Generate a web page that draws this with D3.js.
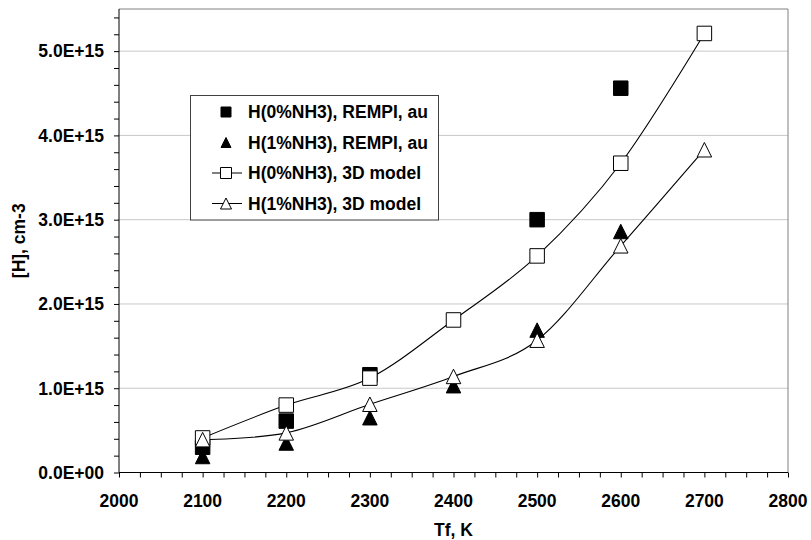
<!DOCTYPE html>
<html>
<head>
<meta charset="utf-8">
<script src="https://cdn.jsdelivr.net/npm/d3@7"></script>
<style>
  html, body { margin: 0; padding: 0; background: #fff; }
  svg text { font-family: "Liberation Sans", Arial, sans-serif; font-weight: bold; fill: #000; }
</style>
</head>
<body>
<svg id="chart" width="811" height="540"></svg>
<script>
// ---- data ----
const rempi0T = [2100, 2200, 2300, 2500, 2600];
const rempi0V = [0.30e15, 0.61e15, 1.16e15, 3.00e15, 4.56e15];
const rempi1T = [2100, 2200, 2300, 2400, 2500, 2600];
const rempi1V = [0.19e15, 0.35e15, 0.65e15, 1.03e15, 1.69e15, 2.86e15];
const modelT = [2100, 2200, 2300, 2400, 2500, 2600, 2700];
const model0V = [0.41e15, 0.80e15, 1.12e15, 1.81e15, 2.57e15, 3.67e15, 5.21e15];
const model1V = [0.39e15, 0.47e15, 0.81e15, 1.14e15, 1.57e15, 2.69e15, 3.83e15];
const xTicks = [2000, 2100, 2200, 2300, 2400, 2500, 2600, 2700, 2800];
const yTicks = [0, 1e15, 2e15, 3e15, 4e15, 5e15];
const yTickLabels = ["0.0E+00", "1.0E+15", "2.0E+15", "3.0E+15", "4.0E+15", "5.0E+15"];
const legendLabels = ["H(0%NH3), REMPI, au", "H(1%NH3), REMPI, au", "H(0%NH3), 3D model", "H(1%NH3), 3D model"];
const xTitle = "Tf, K";
const yTitle = "[H], cm-3";

// ---- layout ----
const L = 119, R = 788, T = 9, B = 472.5;
const FS = "17.5px";
const svg = d3.select("#chart");
const x = d3.scaleLinear().domain([2000, 2800]).range([L, R]);
const y = d3.scaleLinear().domain([0, 5.5e15]).range([B, T]);

// gridlines
svg.append("g").selectAll("line").data(yTicks.filter(v => v > 0)).join("line")
  .attr("x1", L).attr("x2", R).attr("y1", d => y(d)).attr("y2", d => y(d))
  .attr("stroke", "#c8c8c8").attr("stroke-width", 1);

// plot border (top/right gray)
svg.append("path")
  .attr("d", `M${L},${T}H${R}V${B}`)
  .attr("fill", "none").attr("stroke", "#808080").attr("stroke-width", 1);

// axes
const xMinor = d3.range(2000, 2801, 25);
const yMinor = d3.range(0, 5.5e15 + 1, 0.2e15);
const xAxis = d3.axisBottom(x).tickValues(xMinor).tickSize(5).tickFormat("");
const gx = svg.append("g").attr("transform", `translate(0,${B})`).call(xAxis);
gx.select(".domain").attr("d", `M${L},0H${R}`).attr("stroke", "#000");
gx.selectAll(".tick line").attr("stroke", "#000");
svg.append("g").selectAll("text").data(xTicks).join("text")
  .attr("x", d => x(d)).attr("y", 506.5).attr("text-anchor", "middle")
  .style("font-size", FS).text(d => d);

const yAxis = d3.axisLeft(y).tickValues(yMinor).tickSize(5).tickFormat("");
const gy = svg.append("g").attr("transform", `translate(${L},0)`).call(yAxis);
gy.select(".domain").attr("d", `M0,${T}V${B}`).attr("stroke", "#000");
gy.selectAll(".tick line").attr("stroke", "#000");
svg.append("g").selectAll("text").data(yTicks).join("text")
  .attr("x", 104).attr("y", d => y(d)).attr("dy", "0.36em").attr("text-anchor", "end")
  .style("font-size", FS).text((d, i) => yTickLabels[i]);

// axis titles
svg.append("text").attr("x", (L + R) / 2).attr("y", 536).attr("text-anchor", "middle")
  .style("font-size", FS).text(xTitle);
svg.append("text").attr("transform", `translate(25,${(T + B) / 2}) rotate(-90)`)
  .attr("text-anchor", "middle").style("font-size", FS).text(yTitle);

// marker helpers
function sq(s) { const h = s / 2; return `M${-h},${-h}H${h}V${h}H${-h}Z`; }
function tri(s) { const h = s / 2; return `M0,${-h}L${h},${h}H${-h}Z`; }

// lines
const line = d3.line().x(d => x(d[0])).y(d => y(d[1])).curve(d3.curveCardinal.tension(0));
[model0V, model1V].forEach(vals => {
  svg.append("path").datum(modelT.map((t, i) => [t, vals[i]]))
    .attr("d", line).attr("fill", "none").attr("stroke", "#000").attr("stroke-width", 1.1);
});

// markers in Excel series order
function markers(ts, vs, shape, fill) {
  svg.append("g").selectAll("path").data(ts.map((t, i) => [t, vs[i]])).join("path")
    .attr("transform", d => `translate(${x(d[0])},${y(d[1])})`)
    .attr("d", shape)
    .attr("fill", fill).attr("stroke", "#000").attr("stroke-width", 1);
}
markers(rempi0T, rempi0V, sq(14.5), "#000");
markers(rempi1T, rempi1V, tri(14.5), "#000");
markers(modelT, model0V, sq(14.5), "#fff");
markers(modelT, model1V, tri(14.5), "#fff");

// legend
const lg = svg.append("g");
lg.append("rect").attr("x", 190.5).attr("y", 95.5).attr("width", 248).attr("height", 124.5)
  .attr("fill", "#fff").attr("stroke", "#404040").attr("stroke-width", 1);
const rowsY = [112, 142.5, 173, 203.5];
const legShapes = [sq(10), tri(10), sq(11), tri(11)];
const legFill = ["#000", "#000", "#fff", "#fff"];
legendLabels.forEach((lab, i) => {
  const cy = rowsY[i];
  if (i >= 2) {
    lg.append("line").attr("x1", 212).attr("x2", 242).attr("y1", cy).attr("y2", cy)
      .attr("stroke", "#000").attr("stroke-width", 1);
  }
  lg.append("path").attr("transform", `translate(226,${cy})`).attr("d", legShapes[i])
    .attr("fill", legFill[i]).attr("stroke", "#000").attr("stroke-width", 1);
  lg.append("text").attr("x", 248).attr("y", cy).attr("dy", "0.36em")
    .style("font-size", FS).text(lab);
});
</script>
</body>
</html>
